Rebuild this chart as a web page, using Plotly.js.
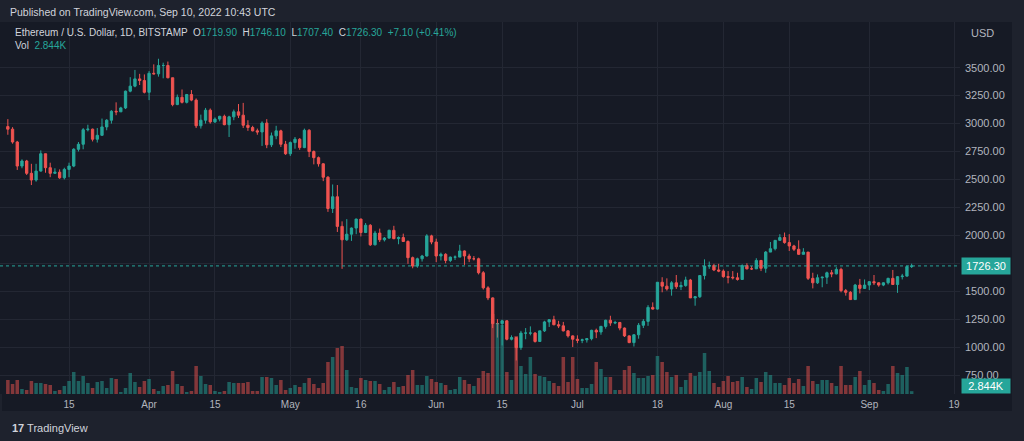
<!DOCTYPE html>
<html><head><meta charset="utf-8">
<script src="https://cdn.plot.ly/plotly-3.0.1.min.js"></script>
<style>html,body{margin:0;padding:0;background:#1e222d;overflow:hidden}#chart{width:1024px;height:441px}</style>
</head><body><div id="chart"></div>
<script>
// ---- DATA (ETH/USD, 1D, Bitstamp, 2 Mar 2022 -> 10 Sep 2022) ----
const startDate = '2022-03-02';
const openP = [
2973,2950,2835,2620,2665,2555,2495,2575,2730,2605,2555,2565,2515,2590,2620,2770,2815,2945,2950,2860,2895,2970,3030,3110,3105,3140,3290,3335,3400,3385,
3280,3450,3445,3520,3520,3410,3170,3235,3190,3260,3210,2980,3030,3120,3015,3040,3065,2990,3060,3105,3075,2985,2965,2935,2925,3005,2810,2890,2935,2815,
2730,2830,2860,2785,2940,2750,2695,2640,2520,2240,2345,2080,1960,2010,2065,2145,2025,2090,1915,2020,1960,1975,2045,1970,1980,1945,1800,1725,1790,1815,1995,
1940,1815,1830,1775,1805,1805,1860,1815,1790,1790,1665,1530,1440,1210,1210,1235,1070,1085,995,1125,1125,1125,1050,1145,1225,1245,1200,1190,1145,1100,
1070,1060,1065,1075,1150,1135,1185,1240,1215,1220,1170,1100,1040,1110,1195,1230,1355,1340,1580,1545,1520,1575,1540,1550,1600,1440,1450,1640,1725,1730,1690,
1680,1630,1625,1620,1605,1730,1700,1700,1775,1705,1850,1880,1955,1980,1935,1905,1875,1830,1850,1615,1575,1620,1625,1665,1655,1695,1505,1490,1425,1555,1525,
1555,1585,1575,1555,1575,1615,1560,1630,1635,1719.9];
const highP = [
3040,2968,2845,2680,2675,2640,2640,2760,2730,2650,2600,2590,2605,2650,2780,2835,2960,2990,2955,2960,3045,3040,3120,3190,3150,3295,3415,3480,3445,3440,
3470,3530,3580,3545,3555,3410,3260,3305,3265,3300,3225,3080,3140,3135,3055,3070,3080,3070,3125,3175,3185,3030,2980,2955,3020,3040,2920,2980,2945,2845,
2840,2880,2870,2955,2950,2760,2705,2645,2530,2455,2450,2125,2145,2070,2150,2150,2110,2100,2040,2060,1985,2050,2085,1990,2015,1955,1810,1800,1825,2010,2005,
1970,1845,1840,1810,1820,1915,1865,1835,1815,1800,1680,1545,1445,1250,1245,1240,1105,1085,1145,1170,1185,1135,1145,1235,1250,1280,1235,1225,1150,1105,
1105,1075,1080,1155,1165,1190,1245,1280,1235,1225,1175,1105,1115,1215,1250,1375,1400,1580,1625,1615,1590,1645,1585,1630,1610,1455,1645,1785,1765,1745,1745,
1695,1680,1680,1665,1740,1750,1725,1795,1780,1860,1940,1955,2010,2025,2010,1915,1955,1885,1850,1665,1650,1630,1675,1690,1715,1710,1520,1500,1565,1610,1605,
1590,1645,1580,1580,1620,1690,1635,1655,1730,1746.1];
const lowP = [
2900,2820,2585,2600,2540,2450,2480,2570,2560,2520,2550,2505,2500,2520,2610,2750,2770,2930,2840,2830,2890,2940,3000,3075,3105,3130,3280,3325,3345,3270,
3210,3440,3420,3405,3405,3155,3165,3180,3180,3200,2960,2955,3000,3000,3005,3020,2985,2880,3030,3050,2960,2935,2930,2900,2800,2780,2790,2860,2790,2720,
2710,2775,2765,2780,2700,2635,2615,2485,2210,2200,2030,1700,1950,1950,2010,1990,2020,1905,1910,1940,1945,1970,1965,1920,1940,1745,1705,1710,1765,1810,1920,
1760,1775,1750,1760,1780,1805,1735,1760,1775,1650,1515,1420,1170,1085,1015,1060,1060,880,975,1070,1105,1040,1050,1135,1180,1195,1170,1140,1085,1000,
1035,1035,1040,1060,1080,1110,1165,1190,1205,1150,1090,1035,1005,1075,1170,1190,1335,1335,1490,1505,1460,1520,1510,1540,1440,1370,1440,1605,1700,1680,1670,
1620,1570,1605,1595,1600,1695,1690,1700,1680,1665,1850,1865,1950,1925,1860,1860,1825,1830,1600,1525,1565,1535,1565,1625,1650,1490,1460,1425,1425,1480,1520,
1510,1555,1540,1545,1560,1560,1485,1605,1630,1707.4];
const closeP = [
2950,2835,2620,2665,2555,2495,2575,2730,2605,2555,2565,2515,2590,2620,2770,2815,2945,2950,2860,2895,2970,3030,3110,3105,3140,3290,3335,3400,3385,3280,
3450,3445,3520,3520,3410,3170,3235,3190,3260,3210,2980,3030,3120,3015,3040,3065,2990,3060,3105,3075,2985,2965,2935,2925,3005,2810,2890,2935,2815,2730,
2830,2860,2785,2940,2750,2695,2640,2520,2240,2345,2080,1960,2010,2065,2145,2025,2090,1915,2020,1960,1975,2045,1970,1980,1945,1800,1725,1790,1815,1995,1940,
1815,1830,1775,1805,1805,1860,1815,1790,1790,1665,1530,1440,1210,1210,1235,1070,1085,995,1125,1125,1125,1050,1145,1225,1245,1200,1190,1145,1100,1070,
1060,1065,1075,1150,1135,1185,1240,1215,1220,1170,1100,1040,1110,1195,1230,1355,1340,1580,1545,1520,1575,1540,1550,1600,1440,1450,1640,1725,1730,1690,1680,
1630,1625,1620,1605,1730,1700,1700,1775,1705,1850,1880,1955,1980,1935,1905,1875,1830,1850,1615,1575,1620,1625,1665,1655,1695,1505,1490,1425,1555,1525,1555,
1585,1575,1555,1575,1615,1560,1630,1635,1719.9,1726.3];
// volume in thousands of ETH
const volumeK = [
14,10,14,5,4,13,11,11,10,9,3,4,8,13,22,13,18,11,6,12,13,6,16,15,2,6,21,12,7,13,
15,5,3,8,9,23,10,8,2,3,28,18,10,9,3,2,3,12,11,11,11,12,3,3,17,17,16,9,14,4,
6,9,7,11,16,10,6,11,32,37,46,48,24,7,6,16,14,13,13,10,4,7,12,7,8,19,24,9,9,18,15,
12,11,9,4,5,17,14,10,8,16,23,21,80,71,69,22,14,58,28,20,37,20,18,17,13,11,8,37,12,37,
15,6,6,10,32,25,17,17,4,4,24,28,21,16,16,18,19,38,32,22,17,19,7,14,21,18,22,41,23,11,7,
13,18,12,13,17,7,5,16,12,22,19,11,11,9,16,11,15,8,28,13,10,14,14,11,8,28,9,9,17,23,9,
14,11,4,3,10,28,21,19,27,2.844];
const priceTicks = [750,1000,1250,1500,1750,2000,2250,2500,2750,3000,3250,3500];
const priceTickLabels = ['750.00','1000.00','1250.00','1500.00','','2000.00','2250.00','2500.00','2750.00','3000.00','3250.00','3500.00'];
const timeTickDates = ['2022-03-15','2022-04-01','2022-04-15','2022-05-01','2022-05-16','2022-06-01','2022-06-15','2022-07-01','2022-07-18','2022-08-01','2022-08-15','2022-09-01','2022-09-19'];
const timeTickLabels = ['15','Apr','15','May','16','Jun','15','Jul','18','Aug','15','Sep','19'];
const lastPrice = 1726.30;
const lastVolumeK = 2.844;

// ---- build ----
const UP = '#26a69a', DOWN = '#ef5350';
function dayStr(i){const d=new Date(startDate+'T00:00:00Z');d.setUTCDate(d.getUTCDate()+i);return d.toISOString().slice(0,10);}
const dates = closeP.map((_,i)=>dayStr(i));
const volColors = closeP.map((c,i)=> c>=openP[i] ? 'rgba(38,166,154,0.5)' : 'rgba(239,83,80,0.5)');

const W=1024,H=441,ML=0,MR=64,MT=22,MB=47;
const PW=W-ML-MR, PH=H-MT-MB;
const px=x=>(x-ML)/PW, py=y=>1-(y-MT)/PH;

const font='Liberation Sans, Arial, sans-serif';
const traces=[
 {type:'bar',x:dates,y:volumeK,yaxis:'y2',marker:{color:volColors,line:{width:0}},hoverinfo:'skip'},
 {type:'candlestick',x:dates,open:openP,high:highP,low:lowP,close:closeP,
  increasing:{line:{color:UP,width:1},fillcolor:UP},decreasing:{line:{color:DOWN,width:1},fillcolor:DOWN},
  whiskerwidth:0,hoverinfo:'skip'}
];
const teal='#26a69a';
const layout={
 width:W,height:H,margin:{l:ML,r:MR,t:MT,b:MB},
 paper_bgcolor:'#1e222d',plot_bgcolor:'#161a25',showlegend:false,bargap:0.25,
 font:{family:font,color:'#b2b5be'},
 xaxis:{type:'date',range:['2022-02-28 08:00','2022-09-20 06:30'],rangeslider:{visible:false},
   tickmode:'array',tickvals:timeTickDates,ticktext:timeTickLabels,showgrid:true,gridcolor:'#232733',gridwidth:1,
   zeroline:false,showline:false,ticks:'',ticklabelstandoff:3,tickfont:{size:10,color:'#b2b5be'},fixedrange:true},
 yaxis:{side:'right',range:[580,3909],tickmode:'array',tickvals:priceTicks,ticktext:priceTickLabels,
   showgrid:true,gridcolor:'#232733',zeroline:false,showline:false,ticks:'',ticklabelstandoff:4,
   tickfont:{size:11,color:'#b2b5be'},fixedrange:true},
 yaxis2:{overlaying:'y',range:[0,PH],visible:false,fixedrange:true},
 shapes:[
  {type:'rect',xref:'paper',yref:'paper',x0:px(2),x1:px(1012),y0:py(411),y1:py(22),fillcolor:'#161a25',line:{width:0},layer:'below'},
  {type:'line',xref:'paper',yref:'y',x0:0,x1:1,y0:lastPrice,y1:lastPrice,line:{color:teal,width:1,dash:'dot'}}
 ],
 annotations:[
  {xref:'paper',yref:'paper',x:px(8),y:py(12),xanchor:'left',yanchor:'middle',showarrow:false,
   text:'Published on TradingView.com, Sep 10, 2022 10:43 UTC',font:{size:10.5,color:'#d1d4dc',family:font}},
  {xref:'paper',yref:'paper',x:px(13),y:py(33),xanchor:'left',yanchor:'middle',showarrow:false,
   text:'Ethereum / U.S. Dollar, 1D, BITSTAMP  O<span style="color:'+teal+'">1719.90</span>  H<span style="color:'+teal+'">1746.10</span>  L<span style="color:'+teal+'">1707.40</span>  C<span style="color:'+teal+'">1726.30</span>  <span style="color:'+teal+'">+7.10 (+0.41%)</span>',
   font:{size:10,color:'#d1d4dc',family:font}},
  {xref:'paper',yref:'paper',x:px(13),y:py(46),xanchor:'left',yanchor:'middle',showarrow:false,
   text:'Vol  <span style="color:'+teal+'">2.844K</span>',font:{size:10,color:'#d1d4dc',family:font}},
  {xref:'paper',yref:'paper',x:px(969),y:py(33),xanchor:'left',yanchor:'middle',showarrow:false,
   text:'USD',font:{size:11,color:'#b2b5be',family:font}},
  {xref:'paper',yref:'y',x:px(961),y:lastPrice,xanchor:'left',yanchor:'middle',showarrow:false,
   text:'1726.30',bgcolor:teal,font:{size:11,color:'#ffffff',family:font},width:46,height:14},
  {xref:'paper',yref:'paper',x:px(961),y:py(386),xanchor:'left',yanchor:'middle',showarrow:false,
   text:'2.844K',bgcolor:teal,font:{size:11,color:'#ffffff',family:font},width:46,height:12},
  {xref:'paper',yref:'paper',x:px(10),y:py(428),xanchor:'left',yanchor:'middle',showarrow:false,
   text:'<b>17</b> TradingView',font:{size:11,color:'#d1d4dc',family:font}}
 ]
};
Plotly.newPlot('chart',traces,layout,{staticPlot:true,displayModeBar:false});
</script></body></html>
